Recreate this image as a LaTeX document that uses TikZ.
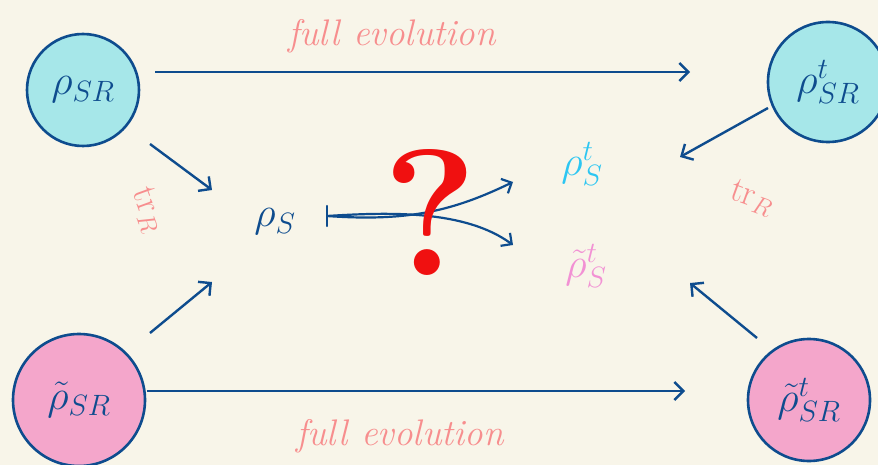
\RequirePackage{fix-cm}
\documentclass[tikz,border=0pt]{standalone}
\usetikzlibrary{arrows.meta,calc}
\definecolor{bg}{HTML}{F8F5E9}
\definecolor{dblue}{HTML}{0E4C8E}
\definecolor{cyanfill}{HTML}{A6E7E9}
\definecolor{pinkfill}{HTML}{F4A6CB}
\definecolor{salmon}{HTML}{F78E8E}
\definecolor{cyantext}{HTML}{2CC6F2}
\definecolor{pinktext}{HTML}{F291D4}
\definecolor{qred}{HTML}{F01010}
\tikzset{
  state/.style={circle, draw=dblue, line width=2.6pt, text=dblue, inner sep=0pt, font=\fontsize{42}{42}\selectfont},
  conn/.style={draw=dblue, line width=2.4pt, -{Straight Barb[length=9pt,width=18pt,line width=2.4pt]}},
  lbl/.style={text=salmon, font=\fontsize{37}{37}\selectfont\itshape},
  trlbl/.style={text=salmon, font=\fontsize{36}{36}\selectfont},
  midlbl/.style={font=\fontsize{42}{42}\selectfont}
}
\begin{document}
\begin{tikzpicture}[x=1pt,y=-1pt]
\fill[bg] (0,0) rectangle (878,465);
\useasboundingbox (0,0) rectangle (878,465);
% circles
\node[state, fill=cyanfill, minimum size=112pt] (A) at (83,90) {$\rho_{SR}$};
\node[state, fill=cyanfill, minimum size=120pt] (B) at (828,82) {$\rho^{t}_{SR}$};
\node[state, fill=pinkfill, minimum size=132pt] (C) at (79,400) {$\tilde\rho_{SR}$};
\node[state, fill=pinkfill, minimum size=122pt] (D) at (809,400) {$\tilde\rho^{t}_{SR}$};
% center labels
\node[midlbl, text=dblue] (rs) at (275,222) {$\rho_S$};
\node[midlbl, text=cyantext] (rst) at (582,164) {$\rho^{t}_S$};
\node[midlbl, text=pinktext] (rtst) at (586,266) {$\tilde\rho^{t}_S$};
% texts
\node[lbl] (fe1) at (392,36) {full evolution};
\node[lbl] (fe2) at (400,436) {full evolution};
\node[trlbl, rotate=-70] (tr1) at (148,210) {tr$_R$};
\node[trlbl, rotate=-20] (tr2) at (752,198) {tr$_R$};
% horizontal arrows
\coordinate (a1) at (155,72); \coordinate (b1) at (690,72);
\coordinate (c1) at (147,391); \coordinate (d1) at (685,391);
\draw[conn] (a1) -- (b1);
\draw[conn] (c1) -- (d1);
% diagonal arrows
\coordinate (a2) at (150,144); \coordinate (s1) at (212,190);
\coordinate (c2) at (150,333); \coordinate (s2) at (212,282);
\coordinate (b2) at (768,108); \coordinate (t1) at (680,157);
\coordinate (d2) at (757,338); \coordinate (t2) at (690,283);
\draw[conn] (a2) -- (s1);
\draw[conn] (c2) -- (s2);
\draw[conn] (b2) -- (t1);
\draw[conn] (d2) -- (t2);
% map arrow
\coordinate (m0) at (327,216);
\coordinate (mu) at (513,182);
\coordinate (md) at (513,245);
\draw[dblue, line width=2.2pt, -{Straight Barb[length=8pt,width=16pt,line width=2.2pt]}] (m0) .. controls (410,222) and (455,210) .. (mu);
\draw[dblue, line width=2.2pt, -{Straight Barb[length=8pt,width=16pt,line width=2.2pt]}] (m0) .. controls (390,212) and (465,210) .. (md);
\draw[dblue, line width=2.2pt, line cap=round] ($(m0)+(0,-10)$) -- ($(m0)+(0,10)$);
% question mark
\node[text=qred, font=\fontsize{180}{180}\selectfont\bfseries] (q) at (430,212) {?};
\end{tikzpicture}
\end{document}
